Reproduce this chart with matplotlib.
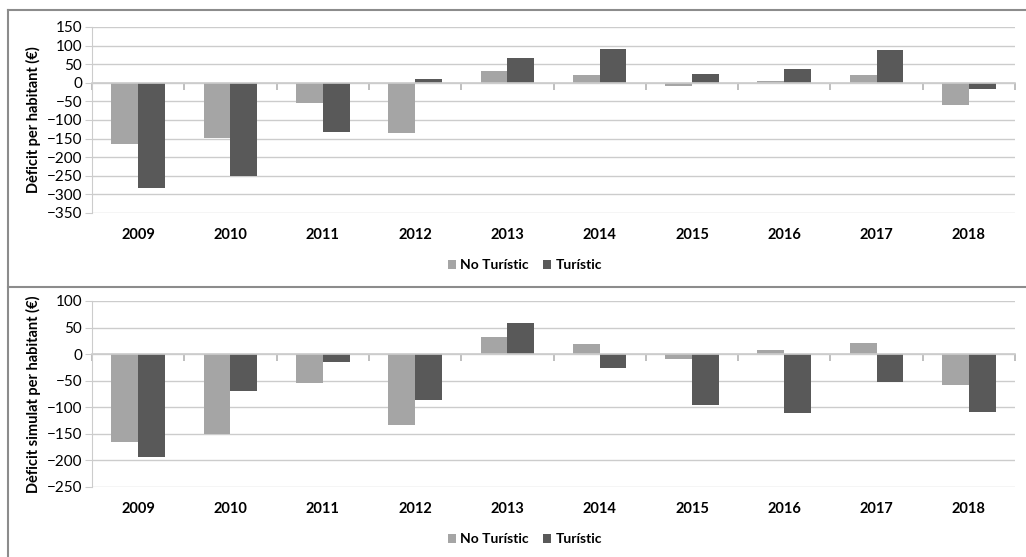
import numpy as np
import matplotlib.pyplot as plt
from matplotlib.lines import Line2D

years = ['2009', '2010', '2011', '2012', '2013', '2014', '2015', '2016', '2017', '2018']

# dèficit per habitant (€)
deficit_no_turistic = [-165, -149, -54, -134, 33, 20, -9, 6, 21, -60]
deficit_turistic = [-283, -250, -132, 10, 66, 92, 24, 36, 88, -17]

# dèficit simulat per habitant (€)
simulat_no_turistic = [-166, -151, -54, -133, 33, 19, -9, 7, 21, -59]
simulat_turistic = [-194, -69, -14, -86, 59, -27, -95, -110, -53, -109]

plt.rcParams['font.family'] = ['Lato', 'DejaVu Sans']

W, H = 1026, 557
LIGHT = '#a5a5a5'
DARK = '#595959'
GRID = '#cccccc'
BORDER = '#8c8c8c'

fig = plt.figure(figsize=(W / 100, H / 100), dpi=100)


def px_axes(x0, y0, x1, y1):
    # axes from pixel box (top-left origin)
    return fig.add_axes([x0 / W, 1 - y1 / H, (x1 - x0) / W, (y1 - y0) / H])


def bar_panel(ax, nt, t, ylim, step, ylabel, legend_y):
    n = len(years)
    x = np.arange(n)
    w = 0.29
    ax.set_axisbelow(True)
    ax.bar(x - w / 2, nt, w, color=LIGHT, label='No Turístic')
    ax.bar(x + w / 2, t, w, color=DARK, label='Turístic')
    ax.set_xlim(-0.5, n - 0.5)
    ax.set_ylim(*ylim)
    ax.set_yticks(np.arange(ylim[0], ylim[1] + 1, step))
    ax.yaxis.grid(True, color=GRID, linewidth=1)
    for s in ['top', 'right']:
        ax.spines[s].set_visible(False)
    ax.spines['left'].set_color(GRID)
    ax.tick_params(axis='y', direction='out', length=5, color=GRID,
                   labelsize=11, labelcolor='#000000', pad=2)
    ax.set_ylabel(ylabel, fontweight='bold', fontsize=10.5, labelpad=4)

    # category axis crossing at zero, with tick marks between groups
    ax.spines['bottom'].set_position(('data', 0))
    ax.spines['bottom'].set_color(GRID)
    ax.spines['bottom'].set_linewidth(1.2)
    ax.set_xticks(np.arange(n + 1) - 0.5)
    ax.set_xticklabels([])
    ax.tick_params(axis='x', direction='out', length=5, width=1.2, color='#b4b4b4')

    # year labels below the plot
    lab = ax.secondary_xaxis('bottom')
    lab.set_xticks(x)
    lab.set_xticklabels(years, fontweight='bold', fontsize=10.5)
    lab.tick_params(axis='x', length=0, pad=11)
    lab.spines['bottom'].set_visible(False)

    ax.legend(loc='center', bbox_to_anchor=(0.5 * (452 + 598) / W, 1 - legend_y / H),
              bbox_transform=fig.transFigure, ncol=2, frameon=False,
              prop={'weight': 'bold', 'size': 10}, handlelength=0.6,
              handleheight=0.6, handletextpad=0.3, columnspacing=1.0)


ax1 = px_axes(92, 27, 1015, 213)
bar_panel(ax1, deficit_no_turistic, deficit_turistic, (-350, 150), 50,
          'Dèficit per habitant (€)', 265)

ax2 = px_axes(92, 301, 1015, 487)
bar_panel(ax2, simulat_no_turistic, simulat_turistic, (-250, 100), 50,
          'Dèficit simulat per habitant (€)', 539)

# chart frames
tr = fig.transFigure
frame = [
    ((8, W), (10, 10)),
    ((8, 8), (10, H)),
    ((8, W), (287, 287)),
]
for xs, ys in frame:
    fig.add_artist(Line2D([v / W for v in xs], [1 - v / H for v in ys],
                          transform=tr, color=BORDER, linewidth=1.5))

fig.savefig('out.png', dpi=100)
